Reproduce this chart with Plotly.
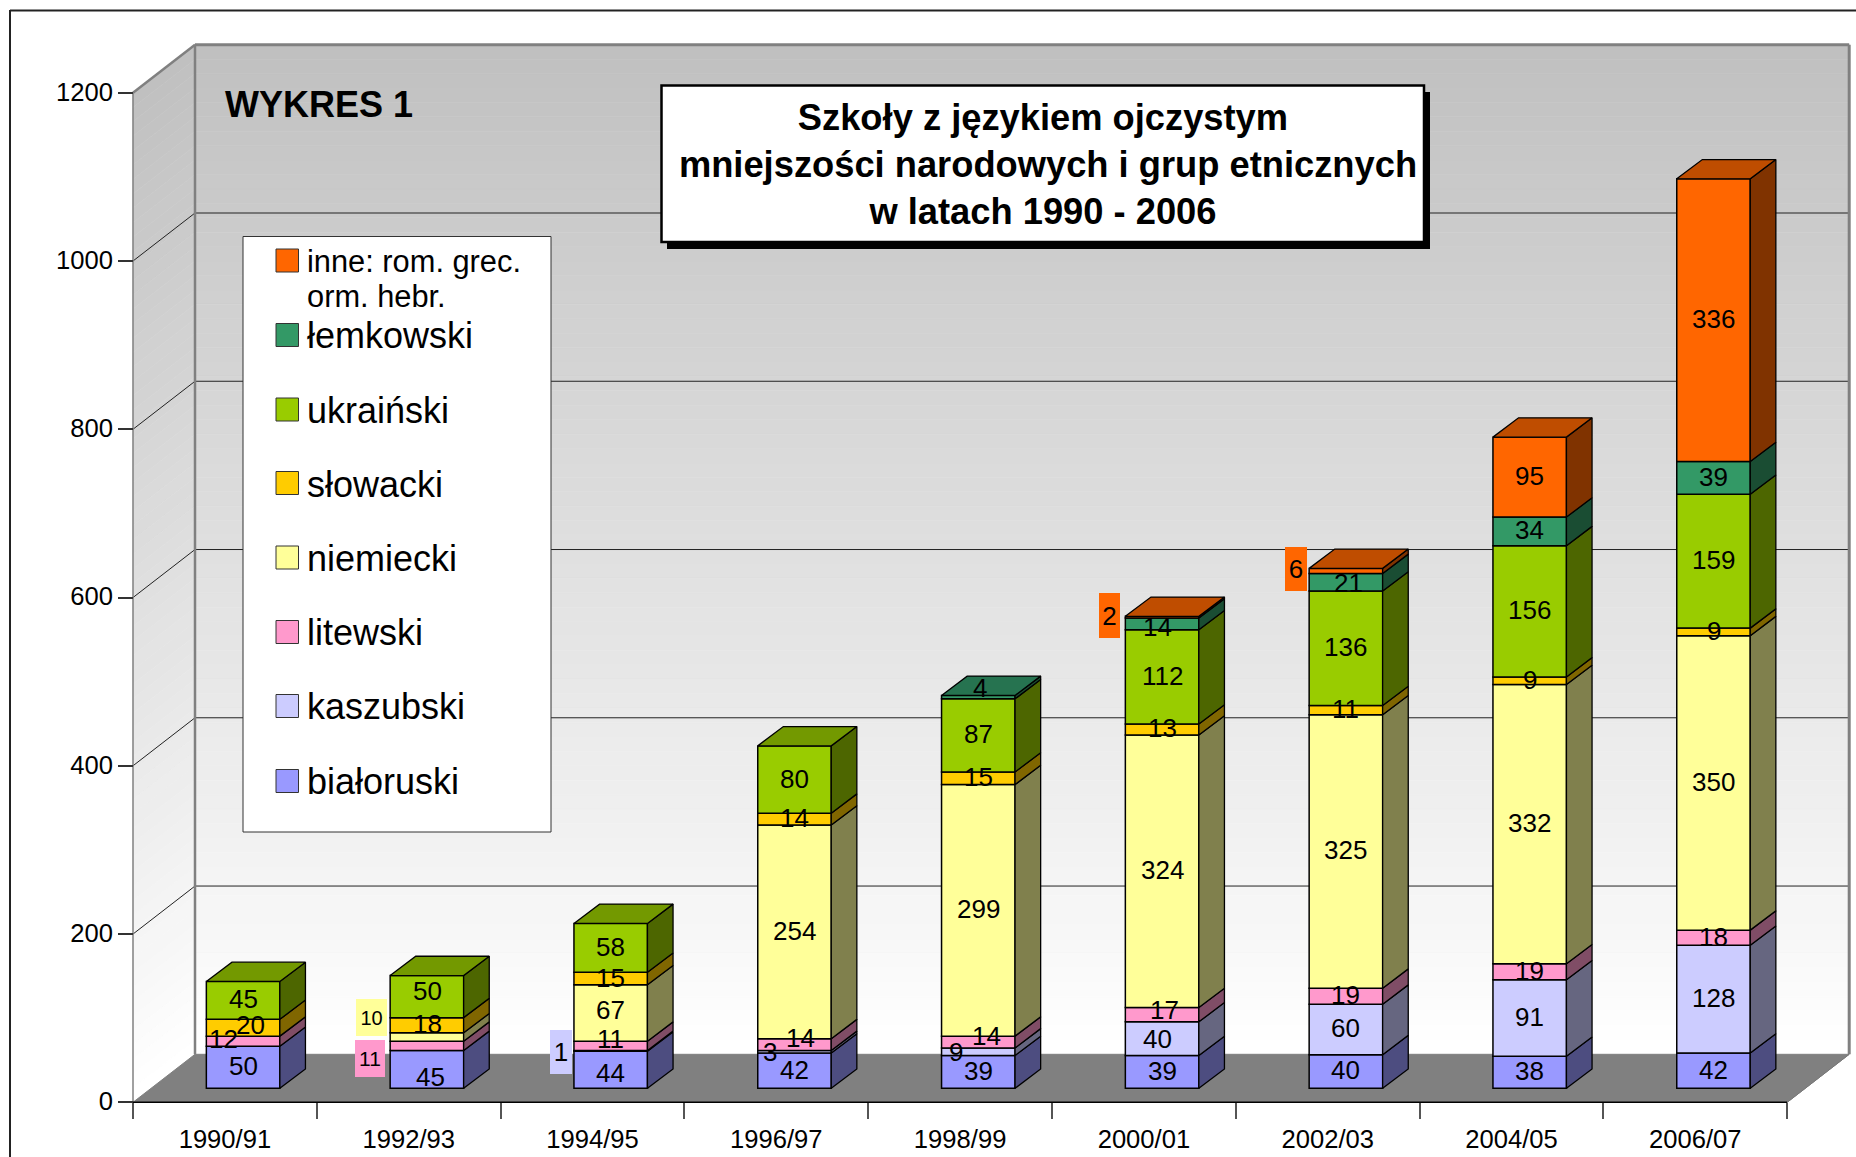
import plotly.graph_objects as go

categories = ["1990/91", "1992/93", "1994/95", "1996/97", "1998/99", "2000/01", "2002/03", "2004/05", "2006/07"]
bialoruski = [50, 45, 44, 42, 39, 39, 40, 38, 42]
kaszubski = [None, None, 1, 3, 9, 40, 60, 91, 128]
litewski = [12, 11, 11, 14, 14, 17, 19, 19, 18]
niemiecki = [None, 10, 67, 254, 299, 324, 325, 332, 350]
slowacki = [20, 18, 15, 14, 15, 13, 11, 9, 9]
ukrainski = [45, 50, 58, 80, 87, 112, 136, 156, 159]
lemkowski = [None, None, None, None, 4, 14, 21, 34, 39]
inne = [None, None, None, None, None, 2, 6, 95, 336]
y_ticks = [0, 200, 400, 600, 800, 1000, 1200]

series_names = ["białoruski", "kaszubski", "litewski", "niemiecki", "słowacki", "ukraiński", "łemkowski", "inne: rom. grec. orm. hebr."]
series_values = [bialoruski, kaszubski, litewski, niemiecki, slowacki, ukrainski, lemkowski, inne]
front = ["#9999FF", "#CCCCFF", "#FF99CC", "#FFFF99", "#FFCC00", "#99CC00", "#339966", "#FF6600"]
side = ["#4D4D80", "#666680", "#804D66", "#80804D", "#806600", "#4D6600", "#1A4D33", "#803300"]
top = ["#7373BF", "#9999BF", "#BF7399", "#BFBF73", "#BF9900", "#739900", "#267350", "#BF4D00"]

W, H = 1856, 1157
X0, Y0, CATW, PXU = 133.0, 1102.3, 183.8, 0.8413   # pixel of data origin, pixels per category / unit


def ux(px):
    return px / CATW


def uy(px):
    return px / PXU


def dx(px):
    return (px - X0) / CATW


def dy(py):
    return (Y0 - py) / PXU


def px_(x):
    return x / W


def py_(y):
    return 1 - y / H


WALL_DX, WALL_DY = ux(62), uy(48)
BAR_DX, BAR_DY = ux(25.6), uy(19.3)
BAR_W = ux(73.5)
SHIFT_X, SHIFT_Y = ux(18.2), uy(14)
Y_TOP = 1200
N_CAT = len(categories)

shapes = []


def poly(pts, fill=None, lw=0, lc="rgba(0,0,0,0)", layer="below"):
    path = "M " + " L ".join(f"{a:.4f},{b:.4f}" for a, b in pts) + " Z"
    shapes.append(dict(type="path", path=path, xref="x", yref="y", fillcolor=fill or "rgba(0,0,0,0)",
                       line=dict(width=lw, color=lc), layer=layer))


def seg(p, q, color, w, layer="below"):
    shapes.append(dict(type="line", xref="x", yref="y", x0=p[0], y0=p[1], x1=q[0], y1=q[1],
                       line=dict(color=color, width=w), layer=layer))


# walls, banded gradient
BANDS = 70
for k in range(BANDS):
    t0, t1 = k / BANDS, (k + 1) / BANDS
    v = round(192 + (255 - 192) * (k + .5) / BANDS)
    col = f"rgb({v},{v},{v})"
    y1 = Y_TOP * (1 - t0)
    y2 = Y_TOP * (1 - t1)
    poly([(WALL_DX, y1 + WALL_DY), (N_CAT + WALL_DX, y1 + WALL_DY), (N_CAT + WALL_DX, y2 + WALL_DY), (WALL_DX, y2 + WALL_DY)], col, .6, col)
    poly([(0, y1), (WALL_DX, y1 + WALL_DY), (WALL_DX, y2 + WALL_DY), (0, y2)], col, .6, col)

# floor
poly([(0, 0), (WALL_DX, WALL_DY), (N_CAT + WALL_DX, WALL_DY), (N_CAT, 0)], "#808080", 1, "#808080")

# gridlines
for v in y_ticks[1:-1]:
    seg((0, v), (WALL_DX, v + WALL_DY), "#222222", 1)
    seg((WALL_DX, v + WALL_DY), (N_CAT + WALL_DX, v + WALL_DY), "#222222", 1)

# wall outlines
seg((0, 0), (0, Y_TOP), "#808080", 1.5)
seg((0, Y_TOP), (WALL_DX, Y_TOP + WALL_DY), "#808080", 2.5)
seg((WALL_DX, WALL_DY), (WALL_DX, Y_TOP + WALL_DY), "#808080", 2.5)
seg((WALL_DX, Y_TOP + WALL_DY), (N_CAT + WALL_DX, Y_TOP + WALL_DY), "#808080", 3)
seg((N_CAT + WALL_DX, WALL_DY), (N_CAT + WALL_DX, Y_TOP + WALL_DY), "#808080", 3)
seg((0, 0), (N_CAT, 0), "#000000", 1.5)
seg((N_CAT, 0), (N_CAT + WALL_DX, WALL_DY), "#777777", 1)

fig = go.Figure()

# stacked bars: fronts by go.Bar, sides and tops by filled scatter
x_front = [i + .5 + SHIFT_X for i in range(N_CAT)]
cum = [SHIFT_Y] * N_CAT
bases = []
for vals in series_values:
    b = list(cum)
    bases.append(b)
    cum = [c + (v or 0) for c, v in zip(cum, vals)]

for name, vals, b, c in zip(series_names, series_values, bases, front):
    fig.add_trace(go.Bar(x=x_front, y=vals, base=b, width=BAR_W, name=name,
                         marker=dict(color=c, line=dict(color="#000000", width=1.5)), hoverinfo="skip"))

for k, (name, vals, b, c) in enumerate(zip(series_names, series_values, bases, side)):
    xs, ys = [], []
    for i in range(N_CAT):
        if vals[i] is None:
            continue
        r = x_front[i] + BAR_W / 2
        y0, y1 = b[i], b[i] + vals[i]
        xs += [r, r + BAR_DX, r + BAR_DX, r, r, None]
        ys += [y0, y0 + BAR_DY, y1 + BAR_DY, y1, y0, None]
    fig.add_trace(go.Scatter(x=xs, y=ys, mode="lines", fill="toself", fillcolor=c, line=dict(color="#000000", width=1.3),
                             hoverinfo="skip", showlegend=False))

for i in range(N_CAT):
    k = max(j for j, vals in enumerate(series_values) if vals[i] is not None)
    yy = bases[k][i] + series_values[k][i]
    l, r = x_front[i] - BAR_W / 2, x_front[i] + BAR_W / 2
    fig.add_trace(go.Scatter(x=[l, l + BAR_DX, r + BAR_DX, r, l], y=[yy, yy + BAR_DY, yy + BAR_DY, yy, yy],
                             mode="lines", fill="toself", fillcolor=top[k], line=dict(color="#000000", width=1.3),
                             hoverinfo="skip", showlegend=False))

# data labels: (series index, category index) -> pixel nudge (right, up)
nudges = {
    (2, 0): (-20, 2), (4, 0): (7, 3), (5, 0): (0, 1),
    (5, 1): (1, 6), (4, 1): (1, 1), (0, 1): (4, -8),
    (3, 2): (0, 3), (2, 2): (0, 7), (0, 2): (0, -3),
    (1, 3): (-25, 0), (2, 3): (6, 7),
    (1, 4): (-22, 0), (2, 4): (8, 6), (6, 4): (2, 9),
    (1, 5): (-5, 0), (2, 5): (2, 5), (6, 5): (-5, -3),
    (2, 6): (0, 1), (6, 6): (3, -1),
}
boxed = {
    (3, 1): (-55, 19, 31, 37, 20), (2, 1): (-57, -13, 30, 37, 21), (1, 2): (-50, -1, 22, 44, 26),
    (7, 5): (-53, 2, 21, 45, 26), (7, 6): (-50, 2, 22, 44, 26),
}
annotations = []
for k, vals in enumerate(series_values):
    for i, v in enumerate(vals):
        if v is None:
            continue
        yc = bases[k][i] + v / 2
        if (k, i) in boxed:
            sx, sy, bw, bh, fs = boxed[(k, i)]
            annotations.append(dict(x=x_front[i], y=yc, xref="x", yref="y", text=str(v), showarrow=False, xshift=sx, yshift=sy,
                                    width=bw, height=bh, bgcolor=front[k], borderpad=0, borderwidth=0, font=dict(size=fs)))
        else:
            sx, sy = nudges.get((k, i), (0, 1))
            annotations.append(dict(x=x_front[i], y=yc, xref="x", yref="y", text=str(v), showarrow=False, xshift=sx, yshift=sy,
                                    font=dict(size=26)))

# legend panel
pshapes = []


def prect(x0, y0, x1, y1, fill, lc, lw):
    pshapes.append(dict(type="rect", xref="paper", yref="paper", x0=px_(x0), x1=px_(x1), y0=py_(y0), y1=py_(y1),
                        fillcolor=fill, line=dict(color=lc, width=lw), layer="above"))


prect(243, 236.5, 551, 832, "#FFFFFF", "#333333", 1)
legend_rows = [(7, 260.5, 261), (6, 335, 335), (5, 409.5, 410.5), (4, 483, 484), (3, 557.5, 558.5), (2, 632, 632), (1, 706, 706.5), (0, 781, 781)]
legend_labels = {7: "inne: rom. grec.", 6: "łemkowski", 5: "ukraiński", 4: "słowacki", 3: "niemiecki", 2: "litewski", 1: "kaszubski", 0: "białoruski"}
for k, ys, yt in legend_rows:
    prect(276, ys - 11.5, 298.5, ys + 11.5, front[k], "#333333", 1)
    fs = 30.8 if k == 7 else 36
    annotations.append(dict(x=px_(304.5), y=py_(yt), xref="paper", yref="paper", xanchor="left", yanchor="middle",
                            text=legend_labels[k], showarrow=False, font=dict(size=fs)))
annotations.append(dict(x=px_(304.5), y=py_(297), xref="paper", yref="paper", xanchor="left", yanchor="middle",
                        text="orm. hebr.", showarrow=False, font=dict(size=30.8)))

annotations.append(dict(x=px_(222.5), y=py_(104), xref="paper", yref="paper", xanchor="left", yanchor="middle",
                        text="<b>WYKRES 1</b>", showarrow=False, font=dict(size=36)))

# title panel
prect(667, 92, 1430, 249, "#000000", "#000000", 0)
prect(661.5, 85.5, 1424, 242, "#FFFFFF", "#000000", 2.5)

# outer frame
pshapes.append(dict(type="line", xref="paper", yref="paper", x0=px_(10), x1=px_(10), y0=py_(10), y1=0,
                    line=dict(color="#222222", width=2), layer="above"))
pshapes.append(dict(type="line", xref="paper", yref="paper", x0=px_(10), x1=1, y0=py_(10.5), y1=py_(10.5),
                    line=dict(color="#222222", width=2), layer="above"))

fig.update_layout(
    width=W, height=H, margin=dict(l=0, r=0, t=0, b=0, pad=0), paper_bgcolor="#FFFFFF", plot_bgcolor="rgba(0,0,0,0)",
    barmode="overlay", showlegend=False, font=dict(family="Liberation Sans, Arial, sans-serif", size=25, color="#000000"),
    title=dict(text="<b>Szkoły z językiem ojczystym\u00a0<br>mniejszości narodowych i grup etnicznych<br>w latach 1990 - 2006\u00a0</b>",
               x=px_(1048), y=py_(129.5), xref="paper", yref="paper", xanchor="center", yanchor="middle",
               font=dict(size=36.3, color="#000000")),
    xaxis=dict(range=[dx(0), dx(W)], domain=[0, 1], anchor="free", position=1 - Y0 / H, tickmode="array",
               tickvals=[i + .5 for i in range(N_CAT)], ticktext=categories, ticks="outside", ticklen=16,
               tickcolor="rgba(0,0,0,0)", showgrid=False, zeroline=False, showline=False, ticklabelstandoff=-2,
               minor=dict(tickmode="array", tickvals=list(range(N_CAT + 1)), ticks="outside", ticklen=16, tickcolor="#555555", tickwidth=1.5, showgrid=False),
               tickfont=dict(size=25.6)),
    yaxis=dict(range=[dy(H), dy(0)], domain=[0, 1], anchor="free", position=X0 / W, tickmode="array", tickvals=y_ticks,
               ticks="outside", ticklen=15, tickcolor="#333333", tickwidth=1.5, showgrid=False, zeroline=False, showline=False,
               ticklabelshift=-1, tickfont=dict(size=25.6)),
    shapes=shapes + pshapes, annotations=annotations,
)
fig.write_html("out.html", config=dict(displayModeBar=False),
               post_script="document.body.style.margin='0';document.body.style.overflow='hidden';")
